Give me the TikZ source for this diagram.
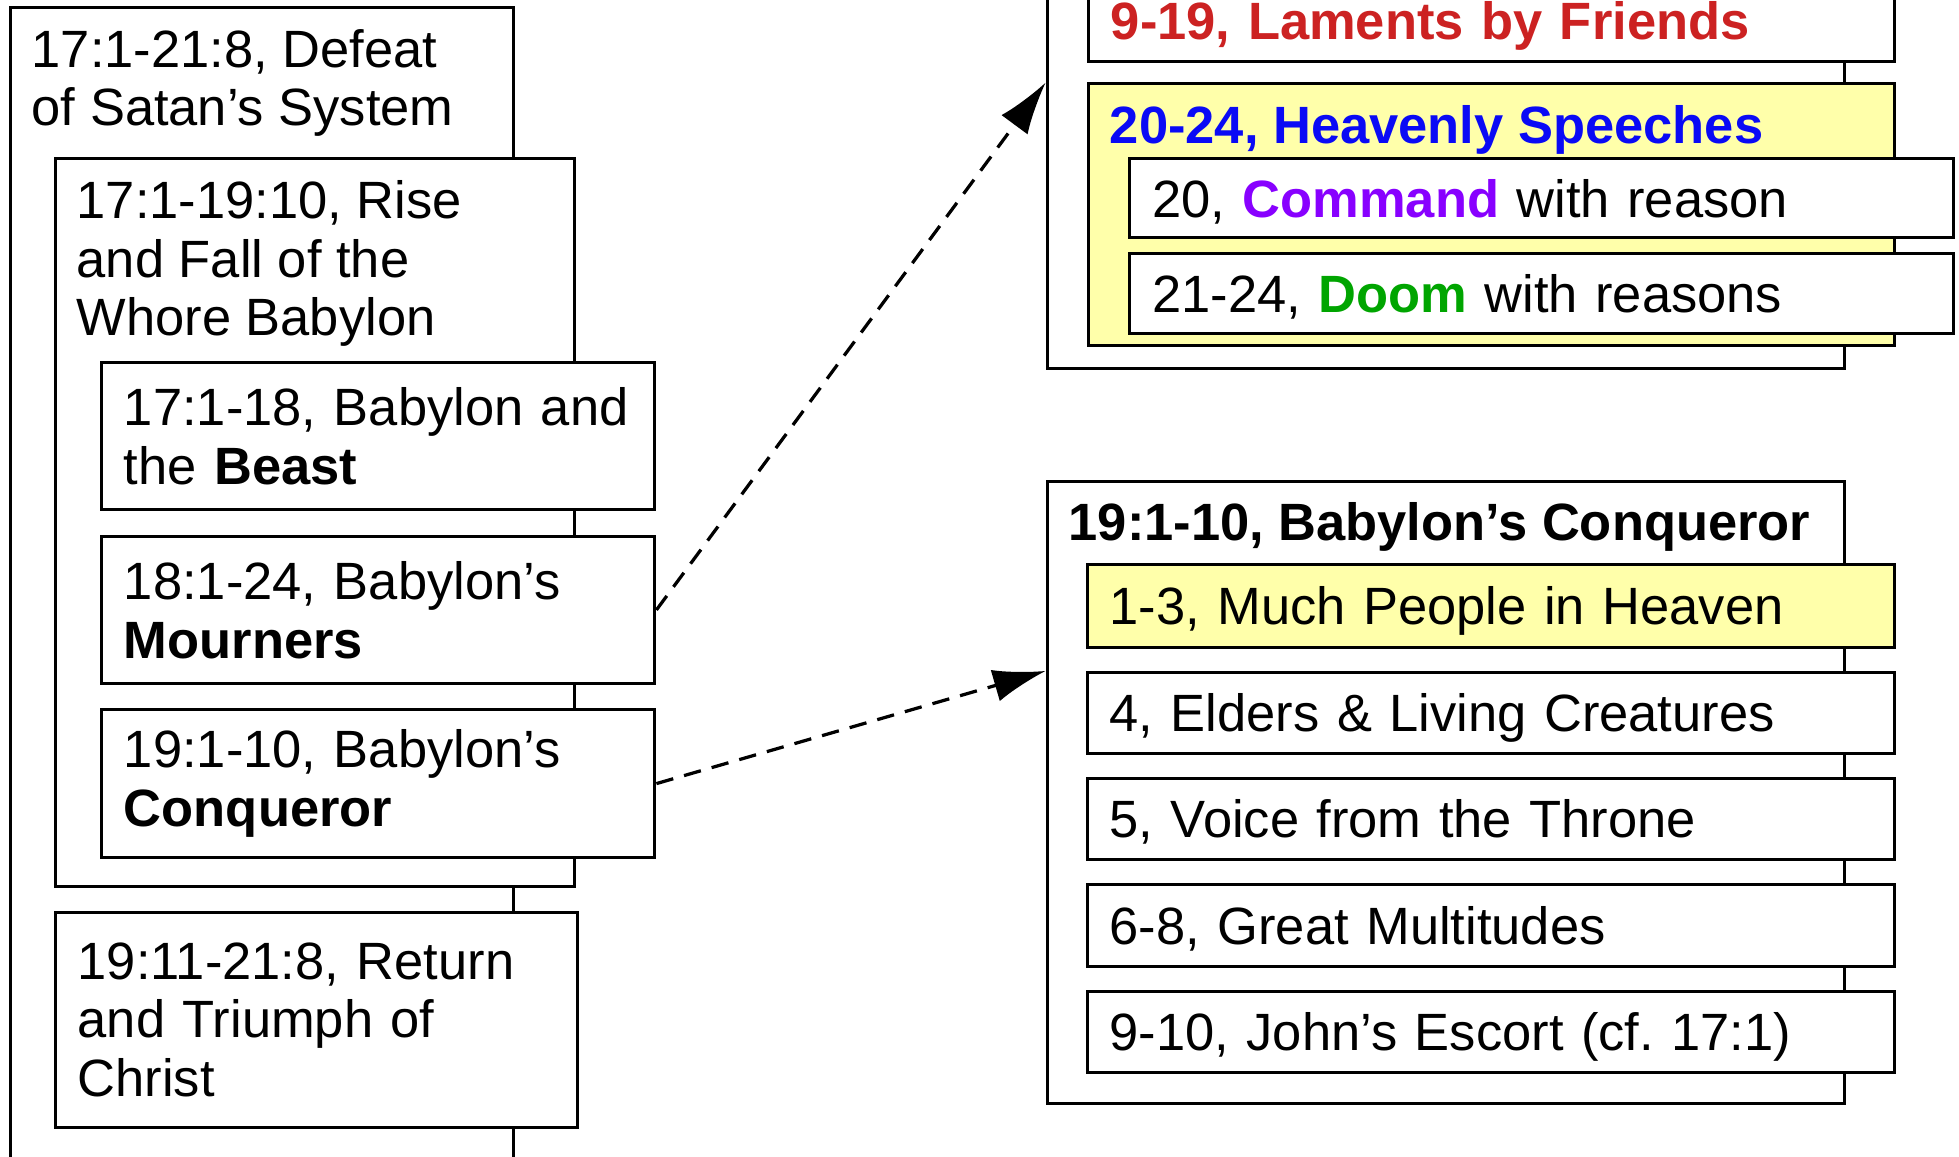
\documentclass[tikz,border=0pt]{standalone}
\usepackage{fontspec}
\setmainfont{Liberation Sans}
\usetikzlibrary{positioning,arrows.meta}
\definecolor{lamentred}{RGB}{204,34,34}
\definecolor{speechblue}{RGB}{10,10,245}
\definecolor{cmdpurple}{RGB}{136,0,255}
\definecolor{doomgreen}{RGB}{0,165,0}
\definecolor{noteyellow}{RGB}{255,255,170}
\tikzset{
outline/.style={
x=0.5pt, y=-0.5pt,
every node/.style={font=\fontsize{21}{23.5}\selectfont},
frame/.style={draw, line width=1.2pt, fill=white, anchor=north west, inner sep=0pt},
box/.style={frame, align=left, inner xsep=9pt},
single/.style={box, text height=15pt, text depth=0pt, minimum height=32.5pt},
head/.style={anchor=north west, align=left, inner xsep=9pt, inner ysep=9pt},
link/.style={line width=1.3pt, dash pattern=on 7pt off 4.5pt, -{Latex[length=21pt,width=13pt]}},
}}

\begin{document}
\frenchspacing
\begin{tikzpicture}[outline]
\useasboundingbox (0,0) rectangle (1568,926);
\clip (0,0) rectangle (1568,926);
% left column
\node[frame, minimum width=201.5pt, minimum height=477.5pt] (defeat) at (7,5) {};
\node[head] (defeatT) at (defeat.north west) {17:1-21:8, Defeat\\of Satan’s System};
\node[frame, minimum width=208pt, minimum height=291pt] (rise) at (43,126) {};
\node[head] (riseT) at (rise.north west) {17:1-19:10, Rise\\and Fall of the\\Whore Babylon};
\node[box, text width=203.5pt, minimum height=59pt] (beast) at (80,289) {17:1-18, Babylon and\\the \textbf{Beast}};
\node[box, text width=203.5pt, minimum height=59pt, below=9.3pt of beast] (mourn) {18:1-24, Babylon’s\\\textbf{Mourners}};
\node[box, text width=203.5pt, minimum height=59pt, below=9.3pt of mourn] (conq) {19:1-10, Babylon’s\\\textbf{Conqueror}};
\node[box, text width=191pt, minimum height=86pt] (triumph) at (43,729) {19:11-21:8, Return\\and Triumph of\\Christ};
% mourners detail
\node[frame, minimum width=319pt, minimum height=177pt] (mournX) at (837,-60) {};
\node[single, text width=304.5pt, text=lamentred, font=\fontsize{21}{23.5}\selectfont\bfseries] (friends) at (870,-17) {9-19, Laments by Friends};
\node[frame, fill=noteyellow, minimum width=322.5pt, minimum height=104.5pt] (speech) at (870,66) {};
\node[head, text=speechblue, font=\fontsize{21}{23.5}\selectfont\bfseries] (speechT) at (speech.north west) {20-24, Heavenly Speeches};
\node[single, text width=311.5pt, minimum height=31.5pt] (command) at (903,126) {20, \textcolor{cmdpurple}{\textbf{Command}} with reason};
\node[single, text width=311.5pt, minimum height=32pt, below=5.3pt of command] (doom) {21-24, \textcolor{doomgreen}{\textbf{Doom}} with reasons};
% conqueror detail
\node[frame, minimum width=319pt, minimum height=249pt] (conqX) at (837,384) {};
\node[head, font=\fontsize{21}{23.5}\selectfont\bfseries] (conqT) at (conqX.north west) {19:1-10, Babylon’s Conqueror};
\node[single, fill=noteyellow, text width=305pt, minimum height=33pt] (people) at (869,451) {1-3, Much People in Heaven};
\node[single, text width=305pt, below=8.8pt of people] (elders) {4, Elders \& Living Creatures};
\node[single, text width=305pt, below=8.8pt of elders] (voice) {5, Voice from the Throne};
\node[single, text width=305pt, below=8.8pt of voice] (multi) {6-8, Great Multitudes};
\node[single, text width=305pt, below=8.8pt of multi] (escort) {9-10, John’s Escort (cf. 17:1)};
%
\draw[link] (mourn.east) -- (speech.north -| mournX.west);
\draw[link] (conq.east) -- (elders.north -| conqX.west);
\end{tikzpicture}
\end{document}
